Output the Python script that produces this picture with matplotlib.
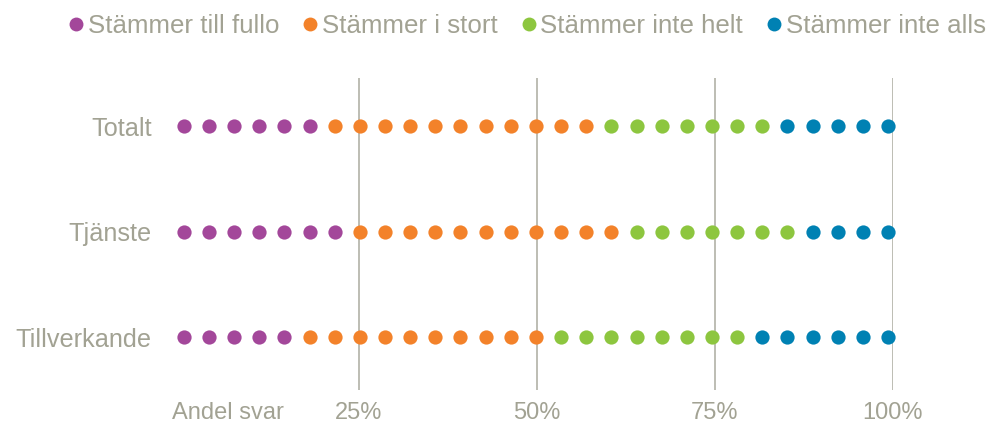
import matplotlib
matplotlib.use('Agg')
import matplotlib.pyplot as plt
from matplotlib.lines import Line2D

# ── data: number of dots (av 29) per svarskategori ───────────────────────────
rows       = ['Totalt', 'Tjänste', 'Tillverkande']
categories = ['Stämmer till fullo', 'Stämmer i stort',
              'Stämmer inte helt', 'Stämmer inte alls']
fullo      = [6, 7, 5]
i_stort    = [11, 11, 10]
inte_helt  = [7, 7, 8]
inte_alls  = [5, 4, 6]
ticks      = [25, 50, 75, 100]
tick_lbls  = ['25%', '50%', '75%', '100%']

colors = ['#A3479A', '#F3822A', '#8DC63F', '#0081B3']
txt_c  = '#A2A293'
grid_c = '#ABAB9F'

plt.rcParams['font.family'] = ['Liberation Sans', 'DejaVu Sans']

fig = plt.figure(figsize=(9.91, 4.22), dpi=100)
W, H = 991, 422
ax = fig.add_axes([181 / W, (H - 390) / H, (893 - 181) / W, (390 - 78) / H])
ax.set_xlim(0, 100)
ax.set_ylim(-0.502, 2.455)

series = [fullo, i_stort, inte_helt, inte_alls]
step = 98.9 / 28
for r, name in enumerate(rows):
    y = len(rows) - 1 - r
    i = 0
    for k, s in enumerate(series):
        xs = [0.4 + (i + j) * step for j in range(s[r])]
        ax.scatter(xs, [y] * len(xs), s=105, color=colors[k],
                   linewidths=0, zorder=3, clip_on=False)
        i += s[r]

ax.set_xticks(ticks)
ax.set_xticklabels(tick_lbls, fontsize=17, color=txt_c)
ax.set_yticks(range(len(rows)))
ax.set_yticklabels(rows[::-1], fontsize=18.2, color=txt_c)
ax.tick_params(axis='both', length=0)
ax.tick_params(axis='x', pad=8.5)
ax.tick_params(axis='y', pad=21)
ax.grid(axis='x', color=grid_c, lw=1.1, zorder=1)
for sp in ax.spines.values():
    sp.set_visible(False)

# "Andel svar" sits on the tick-label row, left of 25%
ax.annotate('Andel svar', xy=(6.6, 0), xycoords=('data', 'axes fraction'),
            xytext=(0, -8.5), textcoords='offset points', ha='center', va='top',
            fontsize=17, color=txt_c)

handles = [Line2D([], [], marker='o', ls='', ms=10, mfc=c, mec='none')
           for c in colors]
leg = fig.legend(handles, categories, loc='center', ncol=4,
                 bbox_to_anchor=(527 / W, 1 - 26 / H), frameon=False,
                 handlelength=0.6, handletextpad=0.15, columnspacing=0.9,
                 labelcolor=txt_c, prop={'size': 18.6})

fig.savefig('out.png', dpi=100)
